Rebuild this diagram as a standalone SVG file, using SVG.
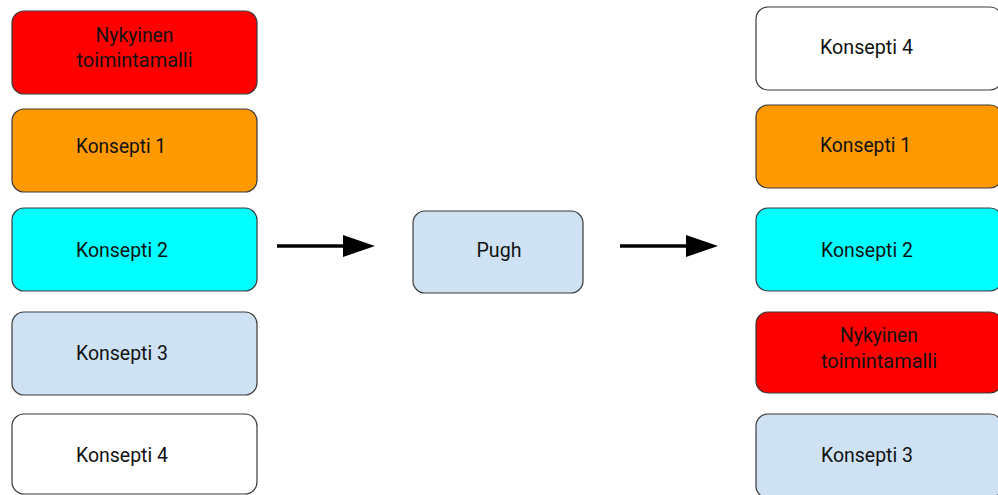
<svg xmlns="http://www.w3.org/2000/svg" width="998" height="495" viewBox="0 0 998 495">
<style>
.b{stroke:#3a3a3a;stroke-width:1.2}
.t{font-family:Roboto,"Liberation Sans",sans-serif;font-size:21px;fill:#111}
.c{text-anchor:middle}
.red{fill:#ff0000}.org{fill:#ff9900}.cy{fill:#00ffff}.lb{fill:#cfe2f3}.wh{fill:#ffffff}
.ar{stroke:#000;stroke-width:3.5;fill:none}
</style>
<rect width="998" height="495" fill="#fff"/>
<g id="L1"><rect class="b red" x="12" y="11" width="245" height="83" rx="12"/><text class="t c" x="134.5" y="42" textLength="78" lengthAdjust="spacingAndGlyphs">Nykyinen</text><text class="t c" x="134.5" y="67" textLength="116" lengthAdjust="spacingAndGlyphs">toimintamalli</text></g>
<g id="L2"><rect class="b org" x="12" y="109" width="245" height="83" rx="12"/><text class="t" x="76" y="153" textLength="90" lengthAdjust="spacingAndGlyphs">Konsepti 1</text></g>
<g id="L3"><rect class="b cy" x="12" y="208" width="245" height="83" rx="12"/><text class="t" x="76" y="257" textLength="92" lengthAdjust="spacingAndGlyphs">Konsepti 2</text></g>
<g id="L4"><rect class="b lb" x="12" y="312" width="245" height="83" rx="12"/><text class="t" x="76" y="360" textLength="92" lengthAdjust="spacingAndGlyphs">Konsepti 3</text></g>
<g id="L5"><rect class="b wh" x="12" y="414" width="245" height="80" rx="12"/><text class="t" x="76" y="462" textLength="92" lengthAdjust="spacingAndGlyphs">Konsepti 4</text></g>
<g id="P"><rect class="b lb" x="413" y="211" width="170" height="82" rx="12"/><text class="t c" x="499" y="257" textLength="45" lengthAdjust="spacingAndGlyphs">Pugh</text></g>
<g id="R1"><rect class="b wh" x="756" y="7" width="246" height="83" rx="12"/><text class="t" x="820" y="54" textLength="93" lengthAdjust="spacingAndGlyphs">Konsepti 4</text></g>
<g id="R2"><rect class="b org" x="756" y="105" width="246" height="83" rx="12"/><text class="t" x="820" y="152" textLength="91" lengthAdjust="spacingAndGlyphs">Konsepti 1</text></g>
<g id="R3"><rect class="b cy" x="756" y="208" width="246" height="83" rx="12"/><text class="t" x="821" y="257" textLength="92" lengthAdjust="spacingAndGlyphs">Konsepti 2</text></g>
<g id="R4"><rect class="b red" x="756" y="312" width="246" height="81" rx="12"/><text class="t c" x="879" y="342" textLength="78" lengthAdjust="spacingAndGlyphs">Nykyinen</text><text class="t c" x="879" y="368" textLength="116" lengthAdjust="spacingAndGlyphs">toimintamalli</text></g>
<g id="R5"><rect class="b lb" x="756" y="414" width="246" height="84" rx="12"/><text class="t" x="821" y="462" textLength="92" lengthAdjust="spacingAndGlyphs">Konsepti 3</text></g>
<g id="connectors">
<line x1="277" y1="246" x2="345" y2="246" class="ar"/><polygon points="343,235 375,246 343,257" fill="#000"/>
<line x1="620" y1="246" x2="688" y2="246" class="ar"/><polygon points="686,235 718,246 686,257" fill="#000"/>
</g>
</svg>
